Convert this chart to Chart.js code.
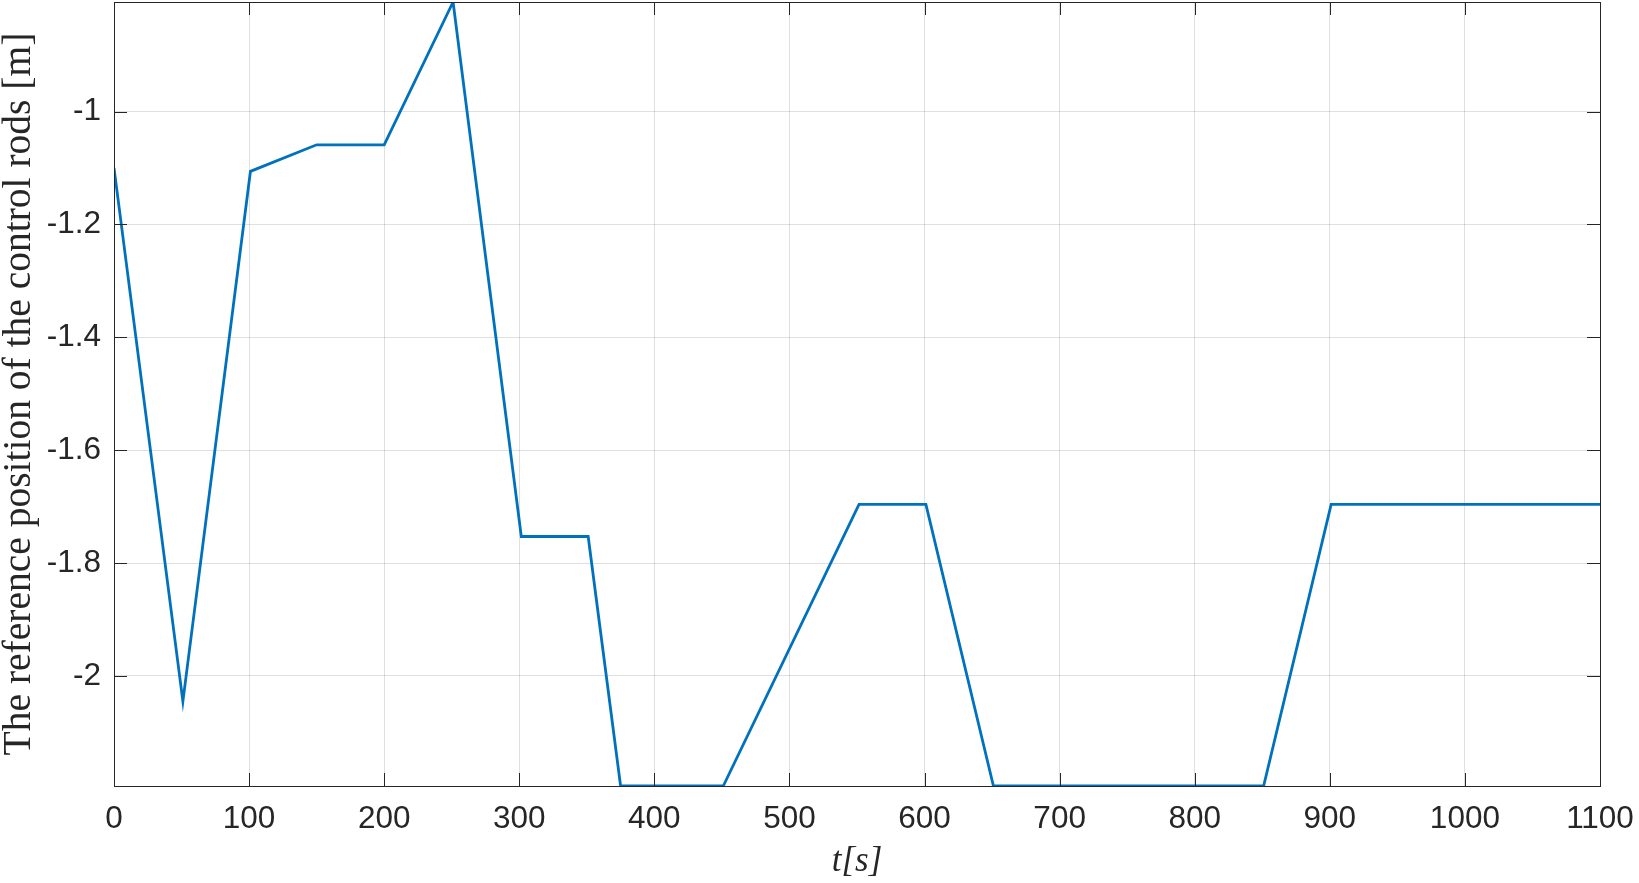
<!DOCTYPE html>
<html><head><meta charset="utf-8">
<style>html,body{margin:0;padding:0;background:#fff;overflow:hidden}
#wrap{width:1639px;height:883px;position:relative}</style>
<script src="https://cdn.jsdelivr.net/npm/chart.js@4/dist/chart.umd.min.js"></script>
</head><body><div id="wrap"><canvas id="c" width="1639" height="883"></canvas></div>
<script>
const timeS  = [0, 51, 101, 150, 200, 251, 301.5, 351, 375, 451, 551.5, 601, 651, 851, 901, 1100];
const rodPos = [-1.1, -2.045, -1.106, -1.059, -1.059, -0.806, -1.753, -1.753, -2.195, -2.195, -1.696, -1.696, -2.195, -2.195, -1.696, -1.696];
const xTicks = [0, 100, 200, 300, 400, 500, 600, 700, 800, 900, 1000, 1100];
const yTicks = [-2, -1.8, -1.6, -1.4, -1.2, -1];
const xLimits = [0, 1100];
const yLimits = [-2.195, -0.806];
const xTitle = 't[s]';
const yTitle = 'The reference position of the control rods [m]';

const AX = '#262626';
const GRID = 'rgba(38,38,38,0.15)';
const TICKFONT = {family: '"Liberation Sans", Arial, sans-serif', size: 31.5};

const boxTicks = {
  id: 'boxTicks',
  afterDatasetsDraw(chart) {
    const {ctx, chartArea: a, scales: {x, y}} = chart;
    const L = 13;
    ctx.save();
    ctx.strokeStyle = AX;
    ctx.lineWidth = 1;
    ctx.beginPath();
    x.ticks.forEach(t => {
      const px = Math.round(x.getPixelForValue(t.value)) + 0.5;
      ctx.moveTo(px, a.bottom); ctx.lineTo(px, a.bottom - L);
      ctx.moveTo(px, a.top); ctx.lineTo(px, a.top + L);
    });
    y.ticks.forEach(t => {
      const py = Math.round(y.getPixelForValue(t.value)) + 0.5;
      ctx.moveTo(a.left, py); ctx.lineTo(a.left + L, py);
      ctx.moveTo(a.right, py); ctx.lineTo(a.right - L, py);
    });
    ctx.stroke();
    ctx.strokeRect(Math.round(a.left) + 0.5, Math.round(a.top) + 0.5,
                   Math.round(a.right - a.left), Math.round(a.bottom - a.top));
    ctx.restore();
  }
};

new Chart(document.getElementById('c'), {
  type: 'line',
  data: {
    datasets: [{
      data: timeS.map((t, i) => ({x: t, y: rodPos[i]})),
      borderColor: '#0072BD',
      borderWidth: 2.8,
      pointRadius: 0,
      fill: false,
      tension: 0
    }]
  },
  options: {
    responsive: false,
    animation: false,
    devicePixelRatio: 1,
    layout: {padding: {top: 2, right: 39, left: 0, bottom: 0}},
    plugins: {legend: {display: false}, tooltip: {enabled: false}},
    scales: {
      x: {
        type: 'linear', min: xLimits[0], max: xLimits[1],
        afterBuildTicks: s => { s.ticks = xTicks.map(v => ({value: v})); },
        afterFit: s => { s.height = 97; s.paddingLeft = 0; s.paddingRight = 0; },
        grid: {color: GRID, lineWidth: 1, drawTicks: false},
        border: {display: false},
        ticks: {color: AX, font: TICKFONT, padding: 14, maxRotation: 0, autoSkip: false,
                callback: v => String(v)},
        title: {display: true, text: xTitle, color: AX,
                font: {family: '"Liberation Serif", "Times New Roman", serif', size: 35, style: 'italic', lineHeight: 1},
                padding: {top: 0, bottom: 4}}
      },
      y: {
        type: 'linear', min: yLimits[0], max: yLimits[1],
        afterBuildTicks: s => { s.ticks = yTicks.map(v => ({value: v})); },
        afterFit: s => { s.width = 114; s.paddingTop = 0; s.paddingBottom = 0; },
        grid: {color: GRID, lineWidth: 1, drawTicks: false},
        border: {display: false},
        ticks: {color: AX, font: TICKFONT, padding: 13, autoSkip: false,
                callback: v => String(v)},
        title: {display: true, text: yTitle, color: AX,
                font: {family: '"Liberation Serif", "Times New Roman", serif', size: 39.5, lineHeight: 1},
                padding: {top: 0, bottom: 0}}
      }
    }
  },
  plugins: [boxTicks]
});
</script></body></html>
